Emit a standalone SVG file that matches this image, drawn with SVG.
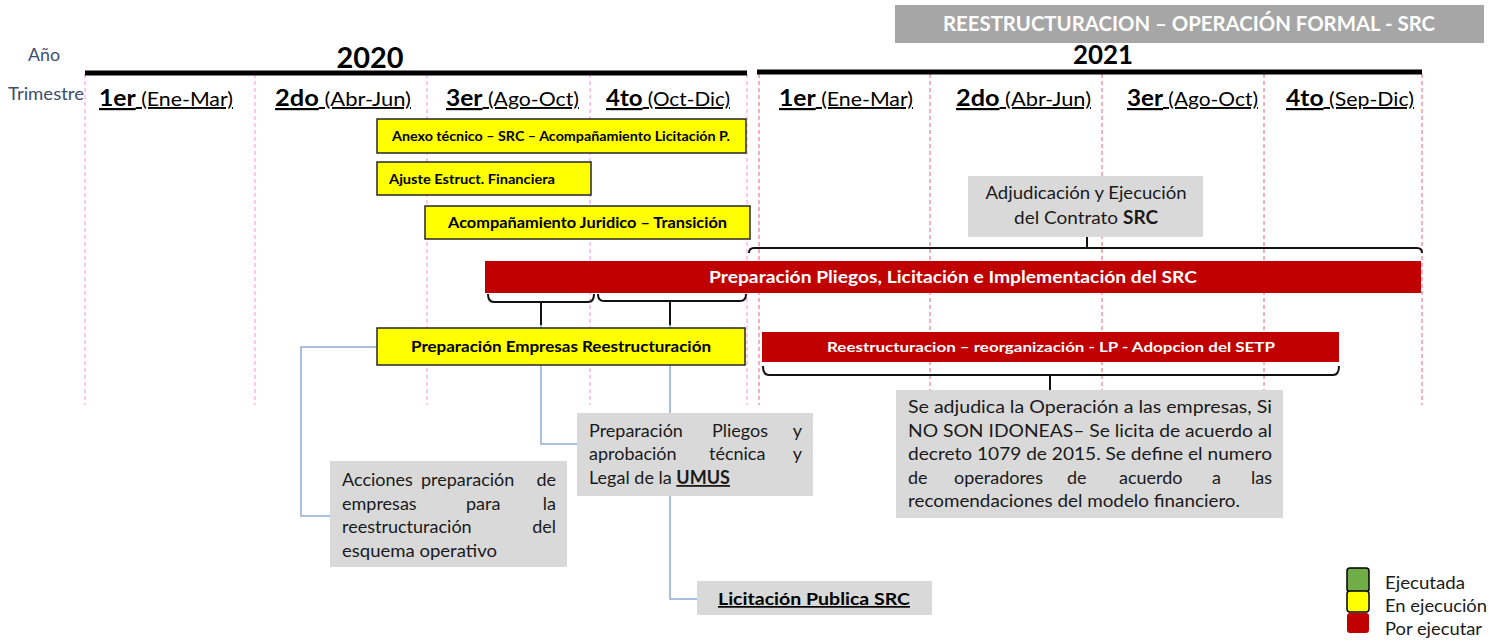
<svg xmlns="http://www.w3.org/2000/svg" width="1507" height="641" viewBox="0 0 1507 641">
<style>
text{font-family:"Lato","Carlito","Liberation Sans",sans-serif;fill:#000}
.b{font-weight:700}
.lbl{font-size:18px;fill:#3b4d70}
.q{font-size:19px;text-decoration:underline}
.qb{font-size:22px;font-weight:700}
.yr{font-weight:700}
.ybox{fill:#ffff00;stroke:#262626;stroke-width:1.5}
.rbox{fill:#c00000}
.gbox{fill:#d9d9d9}
.wt{fill:#fff;font-weight:700}
.gt{font-size:18px;fill:#1a1a1a}
.d20{stroke:#ff8fd6;stroke-width:1;stroke-dasharray:4 3;fill:none}
.d21{stroke:#e8637a;stroke-width:1;stroke-dasharray:4 3;fill:none}
.br{stroke:#111;stroke-width:2;fill:none}
.cn{stroke:#8eaadb;stroke-width:1.5;fill:none}
</style>

<g id="grid">
  <path class="d20" d="M85,74V405M255,74V405M427,74V405M590,74V405M747,74V405"/>
  <path class="d21" d="M759,74V405M930,74V405M1102,74V405M1264,74V405M1422,74V405"/>
</g>

<g id="header">
  <rect x="895" y="5" width="589" height="38" fill="#a6a6a6"/>
  <text x="1189" y="31" class="wt" font-size="20" text-anchor="middle" textLength="492" lengthAdjust="spacingAndGlyphs">REESTRUCTURACION – OPERACIÓN FORMAL - SRC</text>
</g>

<g id="axis">
  <text x="28" y="61" class="lbl" textLength="32" lengthAdjust="spacingAndGlyphs">Año</text>
  <text x="8" y="100" class="lbl" textLength="76" lengthAdjust="spacingAndGlyphs">Trimestre</text>
  <text x="370" y="68" class="yr" font-size="28" text-anchor="middle" textLength="67" lengthAdjust="spacingAndGlyphs">2020</text>
  <text x="1103" y="64" class="yr" font-size="26" text-anchor="middle" textLength="60" lengthAdjust="spacingAndGlyphs">2021</text>
  <line x1="85" y1="73" x2="747" y2="73" stroke="#000" stroke-width="5"/>
  <line x1="757" y1="72" x2="1422" y2="72" stroke="#000" stroke-width="5"/>
  <text x="99" y="106" class="q" textLength="134" lengthAdjust="spacingAndGlyphs"><tspan class="qb">1er</tspan> (Ene-Mar)</text>
  <text x="275" y="106" class="q" textLength="136" lengthAdjust="spacingAndGlyphs"><tspan class="qb">2do</tspan> (Abr-Jun)</text>
  <text x="446" y="106" class="q" textLength="133" lengthAdjust="spacingAndGlyphs"><tspan class="qb">3er</tspan> (Ago-Oct)</text>
  <text x="606" y="106" class="q" textLength="124" lengthAdjust="spacingAndGlyphs"><tspan class="qb">4to</tspan> (Oct-Dic)</text>
  <text x="779" y="106" class="q" textLength="134" lengthAdjust="spacingAndGlyphs"><tspan class="qb">1er</tspan> (Ene-Mar)</text>
  <text x="956" y="106" class="q" textLength="135" lengthAdjust="spacingAndGlyphs"><tspan class="qb">2do</tspan> (Abr-Jun)</text>
  <text x="1127" y="106" class="q" textLength="131" lengthAdjust="spacingAndGlyphs"><tspan class="qb">3er</tspan> (Ago-Oct)</text>
  <text x="1286" y="106" class="q" textLength="128" lengthAdjust="spacingAndGlyphs"><tspan class="qb">4to</tspan> (Sep-Dic)</text>
</g>

<g id="connectors">
  <path class="br" d="M749,253 Q749,248 754,248 L1417,248 Q1422,248 1422,253 M1087,237 V248"/>
  <path class="br" d="M488,294 Q488,302 494,302 L588,302 Q594,302 594,294 M541,302 V325"/>
  <path class="br" d="M598,294 Q598,301 604,301 L740,301 Q746,301 746,294 M670,301 V325"/>
  <path class="br" d="M763,366 Q763,375 769,375 L1333,375 Q1339,375 1339,366 M1050,375 V390"/>
  <path class="cn" d="M377,347 H301 V516 H330"/>
  <path class="cn" d="M541,325 V444 H577"/>
  <path class="cn" d="M670,325 V413"/>
  <path class="cn" d="M670,496 V599 H697"/>
</g>

<g id="anexo">
  <rect class="ybox" x="377" y="119" width="369" height="34"/>
  <text x="392" y="141" class="b" font-size="14" textLength="338" lengthAdjust="spacingAndGlyphs">Anexo técnico – SRC – Acompañamiento Licitación P.</text>
</g>
<g id="ajuste">
  <rect class="ybox" x="377" y="162" width="214" height="33"/>
  <text x="389" y="184" class="b" font-size="14" textLength="166" lengthAdjust="spacingAndGlyphs">Ajuste Estruct. Financiera</text>
</g>
<g id="juridico">
  <rect class="ybox" x="425" y="206" width="325" height="33"/>
  <text x="448" y="228" class="b" font-size="15" textLength="279" lengthAdjust="spacingAndGlyphs">Acompañamiento Juridico – Transición</text>
</g>
<g id="adjudicacion">
  <rect class="gbox" x="968" y="176" width="235" height="61"/>
  <text x="1086" y="199" class="gt" text-anchor="middle" textLength="201" lengthAdjust="spacingAndGlyphs">Adjudicación y Ejecución</text>
  <text x="1086" y="224" class="gt" text-anchor="middle" textLength="144" lengthAdjust="spacingAndGlyphs">del Contrato <tspan class="b">SRC</tspan></text>
</g>
<g id="pliegos-src">
  <rect class="rbox" x="485" y="261" width="936" height="32"/>
  <text x="953" y="283" class="wt" font-size="17" text-anchor="middle" textLength="488" lengthAdjust="spacingAndGlyphs">Preparación Pliegos, Licitación e Implementación del SRC</text>
</g>
<g id="empresas">
  <rect class="ybox" x="377" y="328" width="368" height="37"/>
  <text x="561" y="352" class="b" font-size="15" text-anchor="middle" textLength="300" lengthAdjust="spacingAndGlyphs">Preparación Empresas Reestructuración</text>
</g>
<g id="reestructuracion">
  <rect class="rbox" x="762" y="332" width="577" height="30"/>
  <text x="1051" y="352" class="wt" font-size="14" text-anchor="middle" textLength="448" lengthAdjust="spacingAndGlyphs">Reestructuracion  – reorganización - LP  -  Adopcion del SETP</text>
</g>
<g id="adjudica-nota">
  <rect class="gbox" x="896" y="390" width="387" height="128"/>
  <text x="908" y="413" class="gt" textLength="364" lengthAdjust="spacingAndGlyphs">Se adjudica la Operación a las empresas, Si</text>
  <text x="908" y="437" class="gt" textLength="364" lengthAdjust="spacingAndGlyphs">NO SON IDONEAS– Se licita de acuerdo al</text>
  <text x="908" y="460" class="gt" textLength="364" lengthAdjust="spacingAndGlyphs">decreto 1079 de 2015. Se define el numero</text>
  <text y="484" class="gt"><tspan x="908">de</tspan><tspan x="954">operadores</tspan><tspan x="1067">de</tspan><tspan x="1119">acuerdo</tspan><tspan x="1212">a</tspan><tspan x="1272" text-anchor="end">las</tspan></text>
  <text x="908" y="507" class="gt" textLength="332" lengthAdjust="spacingAndGlyphs">recomendaciones del modelo financiero.</text>
</g>
<g id="acciones">
  <rect class="gbox" x="330" y="461" width="237" height="106"/>
  <text y="486" class="gt"><tspan x="342">Acciones</tspan><tspan x="421">preparación</tspan><tspan x="556" text-anchor="end">de</tspan></text>
  <text y="510" class="gt"><tspan x="342">empresas</tspan><tspan x="466">para</tspan><tspan x="556" text-anchor="end">la</tspan></text>
  <text y="533" class="gt"><tspan x="342">reestructuración</tspan><tspan x="556" text-anchor="end">del</tspan></text>
  <text x="342" y="557" class="gt" textLength="155" lengthAdjust="spacingAndGlyphs">esquema operativo</text>
</g>
<g id="pliegos-umus">
  <rect class="gbox" x="577" y="413" width="236" height="83"/>
  <text y="437" class="gt"><tspan x="589">Preparación</tspan><tspan x="712">Pliegos</tspan><tspan x="802" text-anchor="end">y</tspan></text>
  <text y="460" class="gt"><tspan x="589">aprobación</tspan><tspan x="709">técnica</tspan><tspan x="802" text-anchor="end">y</tspan></text>
  <text x="589" y="484" class="gt" textLength="141" lengthAdjust="spacingAndGlyphs">Legal de la <tspan class="b" text-decoration="underline">UMUS</tspan></text>
</g>
<g id="licitacion">
  <rect class="gbox" x="697" y="581" width="235" height="34"/>
  <text x="814" y="605" class="b" font-size="17" text-anchor="middle" text-decoration="underline" textLength="192" lengthAdjust="spacingAndGlyphs">Licitación Publica  SRC</text>
</g>
<g id="legend">
  <rect x="1347" y="568" width="22" height="24" rx="3" fill="#70ad47" stroke="#000" stroke-width="1.5"/>
  <rect x="1347" y="591" width="22" height="21" rx="3" fill="#ffff00" stroke="#000" stroke-width="1.5"/>
  <rect x="1347" y="613" width="22" height="20" rx="3" fill="#c00000"/>
  <text x="1385" y="589" class="gt" textLength="80" lengthAdjust="spacingAndGlyphs">Ejecutada</text>
  <text x="1385" y="612" class="gt" textLength="102" lengthAdjust="spacingAndGlyphs">En ejecución</text>
  <text x="1385" y="635" class="gt" textLength="97" lengthAdjust="spacingAndGlyphs">Por ejecutar</text>
</g>
</svg>
